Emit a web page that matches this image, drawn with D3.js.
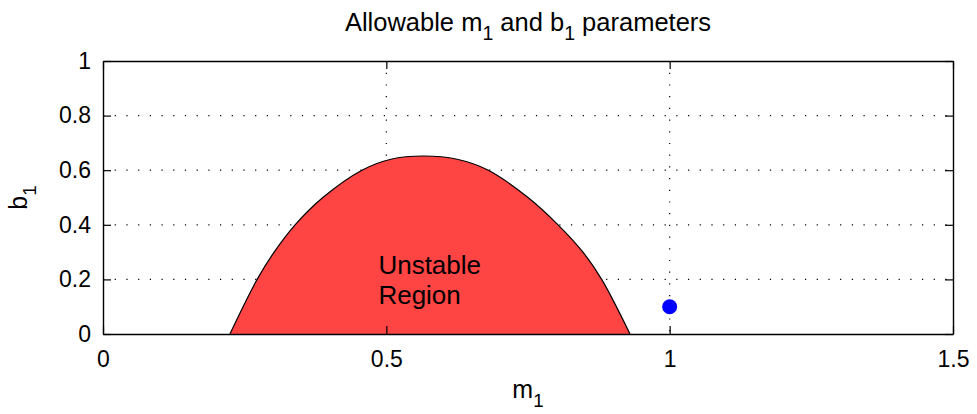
<!DOCTYPE html>
<html>
<head>
<meta charset="utf-8">
<script src="https://cdn.jsdelivr.net/npm/d3@7"></script>
<style>
  body { margin: 0; background: #fff; }
  svg text { font-family: "Liberation Sans", Arial, sans-serif; fill: #000; }
</style>
</head>
<body>
<svg id="chart" width="977" height="414"></svg>
<script>
// boundary of the unstable region (m1, b1)
var boundaryM = [0.224, 0.272, 0.302, 0.339, 0.388, 0.457, 0.508, 0.565, 0.625, 0.680, 0.750, 0.803, 0.847, 0.880, 0.930];
var boundaryB = [0.0, 0.2, 0.3, 0.4, 0.5, 0.6, 0.64, 0.652, 0.64, 0.6, 0.5, 0.4, 0.3, 0.2, 0.0];
var pointM = [1.0];
var pointB = [0.1];
var xTicks = [0, 0.5, 1, 1.5];
var yTicks = [0, 0.2, 0.4, 0.6, 0.8, 1];
var regionLabel = ["Unstable", "Region"];

var svg = d3.select("#chart"),
    margin = {top: 61, right: 24, bottom: 80, left: 103},
    width = 977 - margin.left - margin.right,
    height = 414 - margin.top - margin.bottom;

var x = d3.scaleLinear().domain([0, 1.5]).range([0, width]),
    y = d3.scaleLinear().domain([0, 1]).range([height, 0]);

var g = svg.append("g").attr("transform", `translate(${margin.left},${margin.top})`);

// dotted grid
g.selectAll(".gx").data(xTicks.filter(d => d > 0 && d < 1.5)).enter()
    .append("line").attr("class", "gx")
    .attr("x1", d => x(d)).attr("x2", d => x(d))
    .attr("y1", 0).attr("y2", height)
    .attr("stroke", "#000").attr("stroke-width", 1.2)
    .attr("stroke-dasharray", "1.2,10.5");
g.selectAll(".gy").data(yTicks.filter(d => d > 0 && d < 1)).enter()
    .append("line").attr("class", "gy")
    .attr("x1", 0).attr("x2", width)
    .attr("y1", d => y(d)).attr("y2", d => y(d))
    .attr("stroke", "#000").attr("stroke-width", 1.2)
    .attr("stroke-dasharray", "1.2,10.5");

// unstable region
var pts = boundaryM.map((m, i) => [m, boundaryB[i]]);
var curve = d3.curveCatmullRom.alpha(0.5);
var area = d3.area()
    .x(d => x(d[0])).y0(y(0)).y1(d => y(d[1]))
    .curve(curve);
var line = d3.line()
    .x(d => x(d[0])).y(d => y(d[1]))
    .curve(curve);

g.append("path").datum(pts)
    .attr("d", area)
    .attr("fill", "#ff4444");
g.append("path").datum(pts)
    .attr("d", line)
    .attr("fill", "none")
    .attr("stroke", "#000")
    .attr("stroke-width", 1.2);

g.selectAll(".lbl").data(regionLabel).enter()
    .append("text").attr("class", "lbl")
    .attr("x", x(0.486))
    .attr("y", (d, i) => y(0.22) + i * 30)
    .attr("font-size", 26)
    .text(d => d);

// operating point
g.selectAll(".pt").data(pointM).enter()
    .append("circle").attr("class", "pt")
    .attr("cx", d => x(d))
    .attr("cy", (d, i) => y(pointB[i]))
    .attr("r", 7.5)
    .attr("fill", "#0000ff");

// box and inward ticks on all four sides
var tickLen = 8, fmt = d3.format("~g");
var axes = [
    d3.axisBottom(x).tickValues(xTicks).tickSizeInner(-tickLen).tickSizeOuter(0).tickPadding(17).tickFormat(fmt),
    d3.axisTop(x).tickValues(xTicks).tickSizeInner(-tickLen).tickSizeOuter(0).tickFormat(""),
    d3.axisLeft(y).tickValues(yTicks).tickSizeInner(-tickLen).tickSizeOuter(0).tickPadding(12).tickFormat(fmt),
    d3.axisRight(y).tickValues(yTicks).tickSizeInner(-tickLen).tickSizeOuter(0).tickFormat("")
];
var shifts = [`translate(0,${height})`, "translate(0,0)", "translate(0,0)", `translate(${width},0)`];
axes.forEach((a, i) => {
    var ax = g.append("g").attr("transform", shifts[i]).call(a);
    ax.select(".domain").attr("stroke", "#000").attr("stroke-width", 1.4);
    ax.selectAll(".tick line").attr("stroke", "#000").attr("stroke-width", 1.2);
    ax.selectAll(".tick text")
        .attr("font-size", 23)
        .attr("font-family", "Liberation Sans, Arial, sans-serif")
        .attr("fill", "#000");
});

// labels with subscripts
function subLabel(sel, main, sub, size) {
    sel.append("tspan").text(main);
    sel.append("tspan").attr("dy", size * 0.35).attr("font-size", size * 0.75).text(sub);
}
var title = svg.append("text")
    .attr("x", margin.left + width / 2).attr("y", 31)
    .attr("text-anchor", "middle").attr("font-size", 25.5);
title.append("tspan").text("Allowable m");
title.append("tspan").attr("dy", 9).attr("font-size", 19.5).text("1");
title.append("tspan").attr("dy", -9).text(" and b");
title.append("tspan").attr("dy", 9).attr("font-size", 19.5).text("1");
title.append("tspan").attr("dy", -9).text(" parameters");

var xl = svg.append("text")
    .attr("x", margin.left + width / 2).attr("y", 398)
    .attr("text-anchor", "middle").attr("font-size", 25);
subLabel(xl, "m", "1", 25);

var yl = svg.append("text")
    .attr("transform", `translate(27,${margin.top + height / 2}) rotate(-90)`)
    .attr("text-anchor", "middle").attr("font-size", 25);
subLabel(yl, "b", "1", 25);
</script>
</body>
</html>
